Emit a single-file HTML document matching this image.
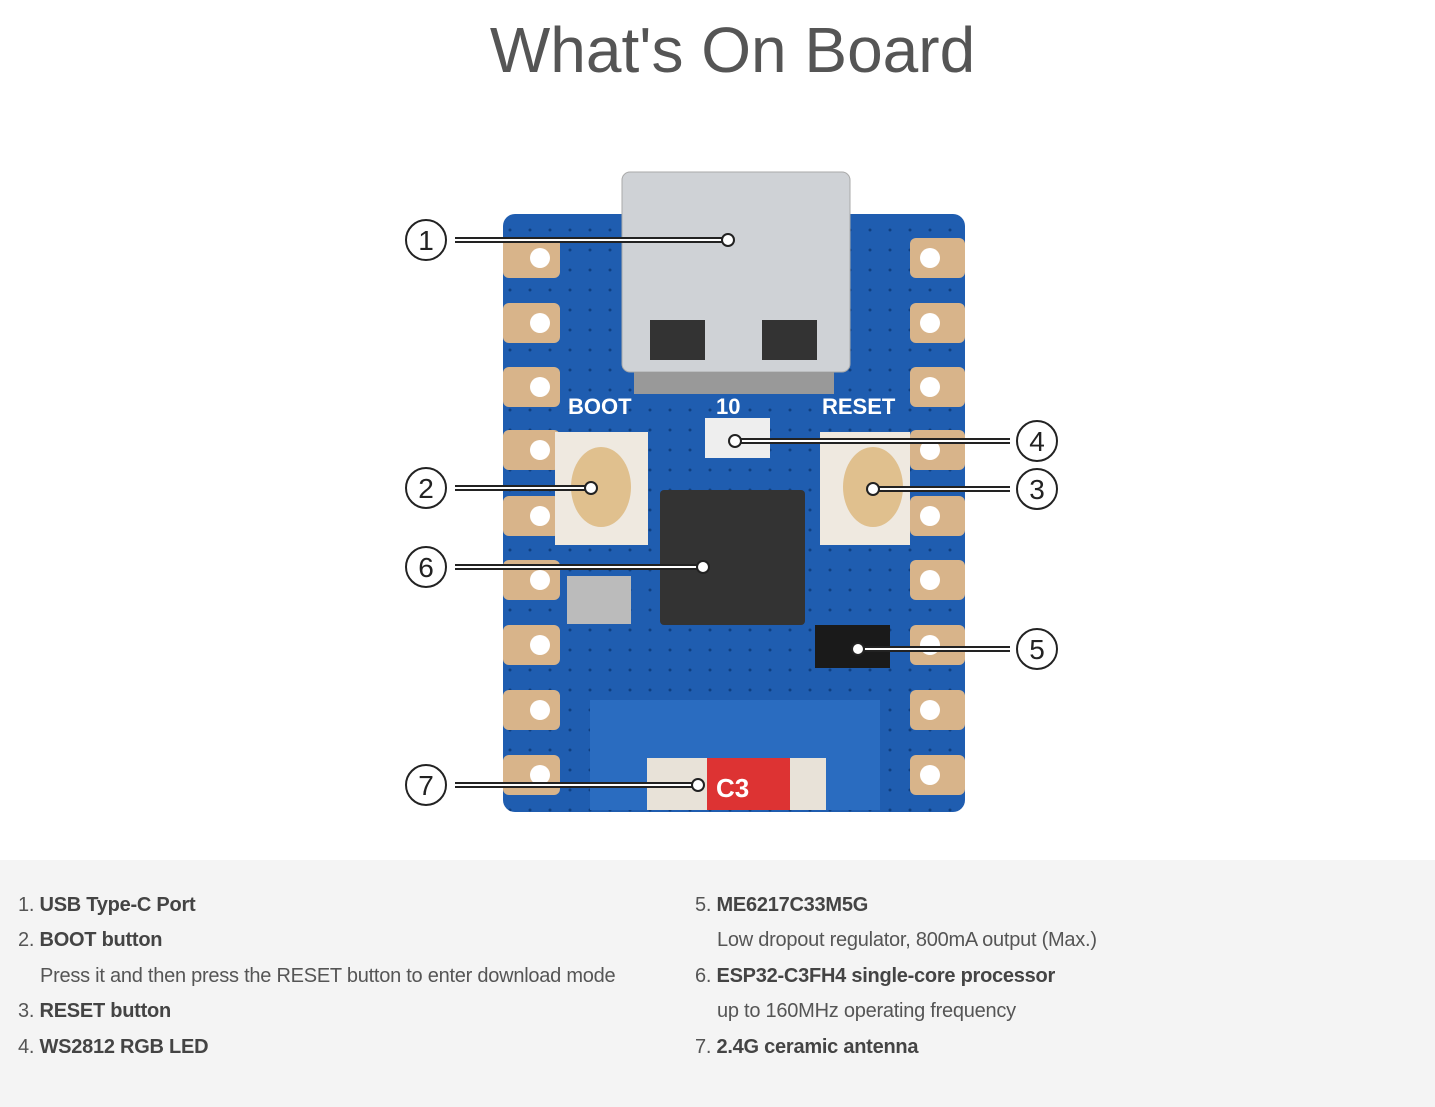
<!DOCTYPE html>
<html><head><meta charset="utf-8"><style>
body{margin:0;width:1435px;height:1107px;background:#fff;font-family:"Liberation Sans",Arial,sans-serif;position:relative;overflow:hidden}
h1{position:absolute;top:13px;left:0;width:1465px;text-align:center;margin:0;font-weight:normal;font-size:64px;color:#555}
.bot{position:absolute;top:860px;left:0;width:1435px;height:247px;background:#f4f4f4}
.l{position:absolute;font-size:20px;color:#555;white-space:nowrap;letter-spacing:-0.25px}
.l b{color:#444}
</style></head><body>
<h1>What's On Board</h1>
<svg style="position:absolute;left:0;top:0" width="1435" height="860">
<defs><pattern id="d" width="20" height="20" patternUnits="userSpaceOnUse"><circle cx="10" cy="10" r="1.5" fill="#0f3f80"/></pattern></defs>
<rect x="503" y="214" width="462" height="598" rx="12" fill="#1f5db0"/>
<rect x="503" y="214" width="462" height="598" rx="12" fill="url(#d)"/>
<g fill="#d8b48a">
<rect x="503" y="238" width="57" height="40" rx="6"/><rect x="503" y="303" width="57" height="40" rx="6"/><rect x="503" y="367" width="57" height="40" rx="6"/><rect x="503" y="430" width="57" height="40" rx="6"/><rect x="503" y="496" width="57" height="40" rx="6"/><rect x="503" y="560" width="57" height="40" rx="6"/><rect x="503" y="625" width="57" height="40" rx="6"/><rect x="503" y="690" width="57" height="40" rx="6"/><rect x="503" y="755" width="57" height="40" rx="6"/>
<rect x="910" y="238" width="55" height="40" rx="6"/><rect x="910" y="303" width="55" height="40" rx="6"/><rect x="910" y="367" width="55" height="40" rx="6"/><rect x="910" y="430" width="55" height="40" rx="6"/><rect x="910" y="496" width="55" height="40" rx="6"/><rect x="910" y="560" width="55" height="40" rx="6"/><rect x="910" y="625" width="55" height="40" rx="6"/><rect x="910" y="690" width="55" height="40" rx="6"/><rect x="910" y="755" width="55" height="40" rx="6"/>
</g>
<g fill="#fff">
<circle cx="540" cy="258" r="10"/><circle cx="540" cy="323" r="10"/><circle cx="540" cy="387" r="10"/><circle cx="540" cy="450" r="10"/><circle cx="540" cy="516" r="10"/><circle cx="540" cy="580" r="10"/><circle cx="540" cy="645" r="10"/><circle cx="540" cy="710" r="10"/><circle cx="540" cy="775" r="10"/>
<circle cx="930" cy="258" r="10"/><circle cx="930" cy="323" r="10"/><circle cx="930" cy="387" r="10"/><circle cx="930" cy="450" r="10"/><circle cx="930" cy="516" r="10"/><circle cx="930" cy="580" r="10"/><circle cx="930" cy="645" r="10"/><circle cx="930" cy="710" r="10"/><circle cx="930" cy="775" r="10"/>
</g>
<rect x="590" y="700" width="290" height="110" fill="#2a6cc0"/>
<rect x="622" y="172" width="228" height="200" rx="8" fill="#cfd2d6" stroke="#aaa"/>
<rect x="634" y="372" width="200" height="22" fill="#999"/>
<rect x="650" y="320" width="55" height="40" fill="#333"/><rect x="762" y="320" width="55" height="40" fill="#333"/>
<text x="568" y="414" font-size="22" font-weight="bold" fill="#fff">BOOT</text>
<text x="716" y="414" font-size="22" font-weight="bold" fill="#fff">10</text>
<text x="822" y="414" font-size="22" font-weight="bold" fill="#fff">RESET</text>
<rect x="555" y="432" width="93" height="113" fill="#efe9e0"/>
<ellipse cx="601" cy="487" rx="30" ry="40" fill="#e0c08e"/>
<rect x="820" y="432" width="90" height="113" fill="#efe9e0"/>
<ellipse cx="873" cy="487" rx="30" ry="40" fill="#e0c08e"/>
<rect x="705" y="418" width="65" height="40" fill="#eee"/>
<rect x="660" y="490" width="145" height="135" rx="4" fill="#333"/>
<rect x="567" y="576" width="64" height="48" fill="#bbb"/>
<rect x="815" y="625" width="75" height="43" fill="#1a1a1a"/>
<rect x="647" y="758" width="179" height="52" fill="#e8e2d8"/>
<rect x="707" y="758" width="83" height="52" fill="#d33"/>
<text x="716" y="797" font-size="26" font-weight="bold" fill="#fff">C3</text>
<g stroke="#222" stroke-width="6" fill="none">
<line x1="455" y1="240" x2="728" y2="240"/><line x1="455" y1="488" x2="591" y2="488"/><line x1="455" y1="567" x2="703" y2="567"/><line x1="455" y1="785" x2="698" y2="785"/>
<line x1="735" y1="441" x2="1010" y2="441"/><line x1="873" y1="489" x2="1010" y2="489"/><line x1="858" y1="649" x2="1010" y2="649"/>
</g>
<g stroke="#fff" stroke-width="2" fill="none">
<line x1="455" y1="240" x2="728" y2="240"/><line x1="455" y1="488" x2="591" y2="488"/><line x1="455" y1="567" x2="703" y2="567"/><line x1="455" y1="785" x2="698" y2="785"/>
<line x1="735" y1="441" x2="1010" y2="441"/><line x1="873" y1="489" x2="1010" y2="489"/><line x1="858" y1="649" x2="1010" y2="649"/>
</g>
<g fill="#fff" stroke="#222" stroke-width="2">
<circle cx="728" cy="240" r="6"/><circle cx="591" cy="488" r="6"/><circle cx="703" cy="567" r="6"/><circle cx="698" cy="785" r="6"/><circle cx="735" cy="441" r="6"/><circle cx="873" cy="489" r="6"/><circle cx="858" cy="649" r="6"/>
<circle cx="426" cy="240" r="20"/><circle cx="426" cy="488" r="20"/><circle cx="426" cy="567" r="20"/><circle cx="426" cy="785" r="20"/><circle cx="1037" cy="441" r="20"/><circle cx="1037" cy="489" r="20"/><circle cx="1037" cy="649" r="20"/>
</g>
<g font-size="28" fill="#222" text-anchor="middle">
<text x="426" y="250">1</text><text x="426" y="498">2</text><text x="426" y="577">6</text><text x="426" y="795">7</text><text x="1037" y="451">4</text><text x="1037" y="499">3</text><text x="1037" y="659">5</text>
</g>
</svg>
<div class="bot"></div>
<div class="l" style="left:18px;top:894px">1. <b>USB Type-C Port</b></div>
<div class="l" style="left:18px;top:929px">2. <b>BOOT button</b></div>
<div class="l" style="left:40px;top:965px">Press it and then press the RESET button to enter download mode</div>
<div class="l" style="left:18px;top:1000px">3. <b>RESET button</b></div>
<div class="l" style="left:18px;top:1036px">4. <b>WS2812 RGB LED</b></div>
<div class="l" style="left:695px;top:894px">5. <b>ME6217C33M5G</b></div>
<div class="l" style="left:717px;top:929px">Low dropout regulator, 800mA output (Max.)</div>
<div class="l" style="left:695px;top:965px">6. <b>ESP32-C3FH4 single-core processor</b></div>
<div class="l" style="left:717px;top:1000px">up to 160MHz operating frequency</div>
<div class="l" style="left:695px;top:1036px">7. <b>2.4G ceramic antenna</b></div>
</body></html>
